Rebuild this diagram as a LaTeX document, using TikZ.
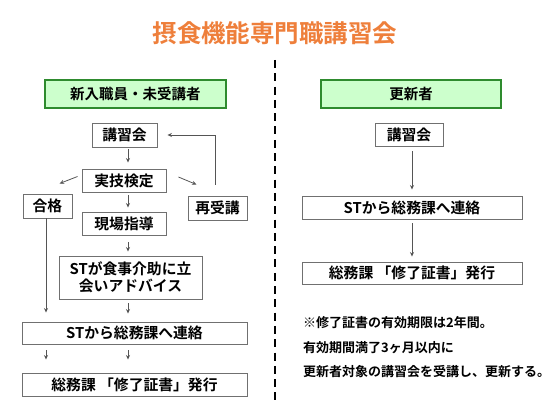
\documentclass[tikz,border=0pt]{standalone}
\usepackage{fontspec}
\setmainfont{Noto Sans CJK JP}[BoldFont={Noto Sans CJK JP Bold}]
\usetikzlibrary{arrows.meta}
\definecolor{ttl}{HTML}{EE7F3B}
\definecolor{hdrgreen}{HTML}{2E8B2E}
\definecolor{hdrfill}{HTML}{CCFFCC}
\definecolor{boxgray}{HTML}{707070}
\definecolor{arrgray}{HTML}{555555}
\begin{document}
\begin{tikzpicture}[x=1pt,y=-1pt,
  box/.style={draw=boxgray, line width=0.9pt, fill=white, inner sep=0pt,
    font=\bfseries\fontsize{14.8}{17}\selectfont},
  hdr/.style={draw=hdrgreen, line width=1.3pt, fill=hdrfill, inner sep=0pt,
    minimum height=28pt, font=\bfseries\fontsize{14.5}{17}\selectfont},
  arr/.style={draw=arrgray, line width=0.8pt, -{Stealth[length=4.5pt,width=4pt]}}]
\useasboundingbox (0,0) rectangle (550,409);

% title
\node[font=\bfseries\fontsize{24.5}{28}\selectfont, text=ttl] (t) at (275,33) {摂食機能専門職講習会};

% divider
\coordinate (d1) at (275,60);
\coordinate (d2) at (275,403);
\draw[line width=2pt, dash pattern=on 8pt off 5.3pt] (d1) -- (d2);

% headers
\node[hdr, minimum width=181pt] (h1) at (135.5,94) {新入職員・未受講者};
\node[hdr, minimum width=180pt] (h2) at (411,94) {更新者};

% left flow
\node[box, minimum width=65pt, minimum height=24pt] (k1) at (124.5,135) {講習会};
\node[box, minimum width=84pt, minimum height=23pt] (jg) at (124,180.5) {実技検定};
\node[box, minimum width=49pt, minimum height=24pt] (gk) at (47.5,206) {合格};
\node[box, minimum width=59pt, minimum height=24pt] (sj) at (217.5,208) {再受講};
\node[box, minimum width=84pt, minimum height=23pt] (gb) at (124,223.5) {現場指導};
\node[box, minimum width=143pt, minimum height=43pt, align=center] (st) at (130.5,277.5) {STが食事介助に立\\会いアドバイス};
\node[box, minimum width=225pt, minimum height=22pt] (rl) at (134.5,333) {STから総務課へ連絡};
\node[box, minimum width=225pt, minimum height=23pt] (sm) at (134.5,384.5) {総務課 「修了証書」発行};

\coordinate (c) at (128,0);
\coordinate (c2) at (46,0);
\coordinate (c3) at (215,0);
\draw[arr, shorten <=2pt, shorten >=6pt] (k1.south -| c) -- (jg.north -| c);
\draw[arr, shorten <=3pt, shorten >=4pt] (jg.south -| c) -- (gb.north -| c);
\draw[arr, shorten <=7pt, shorten >=4pt] (gb.south -| c) -- (st.north -| c);
\draw[arr, shorten <=4pt, shorten >=8pt] (st.south -| c) -- (rl.north -| c);
\draw[arr, shorten <=6pt, shorten >=13pt] (rl.south -| c) -- (sm.north -| c);
\draw[arr, shorten <=6pt, shorten >=13pt] (rl.south -| c2) -- (sm.north -| c2);
\draw[arr, shorten >=9pt] (gk.south -| c2) -- (rl.north -| c2);
\draw[arr] ([shift={(-4,-4)}]jg.west) -- ([shift={(12,-10)}]gk.north);
\draw[arr] ([shift={(12,-3.5)}]jg.east) -- ([shift={(-21,-11)}]sj.north);
\draw[arr, shorten <=11pt, shorten >=10pt] (sj.north -| c3) |- (k1.east);

% right flow
\node[box, minimum width=68pt, minimum height=23pt] (k2) at (409,134.5) {講習会};
\node[box, minimum width=220pt, minimum height=23pt] (rl2) at (412,207.5) {STから総務課へ連絡};
\node[box, minimum width=220pt, minimum height=22pt] (sm2) at (412,273) {総務課 「修了証書」発行};
\coordinate (c4) at (412,0);
\draw[arr, shorten <=5pt, shorten >=6pt] (k2.south -| c4) -- (rl2.north -| c4);
\draw[arr, shorten <=4pt, shorten >=5pt] (rl2.south -| c4) -- (sm2.north -| c4);

% note
\node[anchor=west, align=left, inner sep=0pt, font=\bfseries\fontsize{13}{24.5}\selectfont] (note) at (303,347.5) {※修了証書の有効期限は2年間。\\有効期間満了3ヶ月以内に\\更新者対象の講習会を受講し、更新する。};
\end{tikzpicture}
\end{document}
